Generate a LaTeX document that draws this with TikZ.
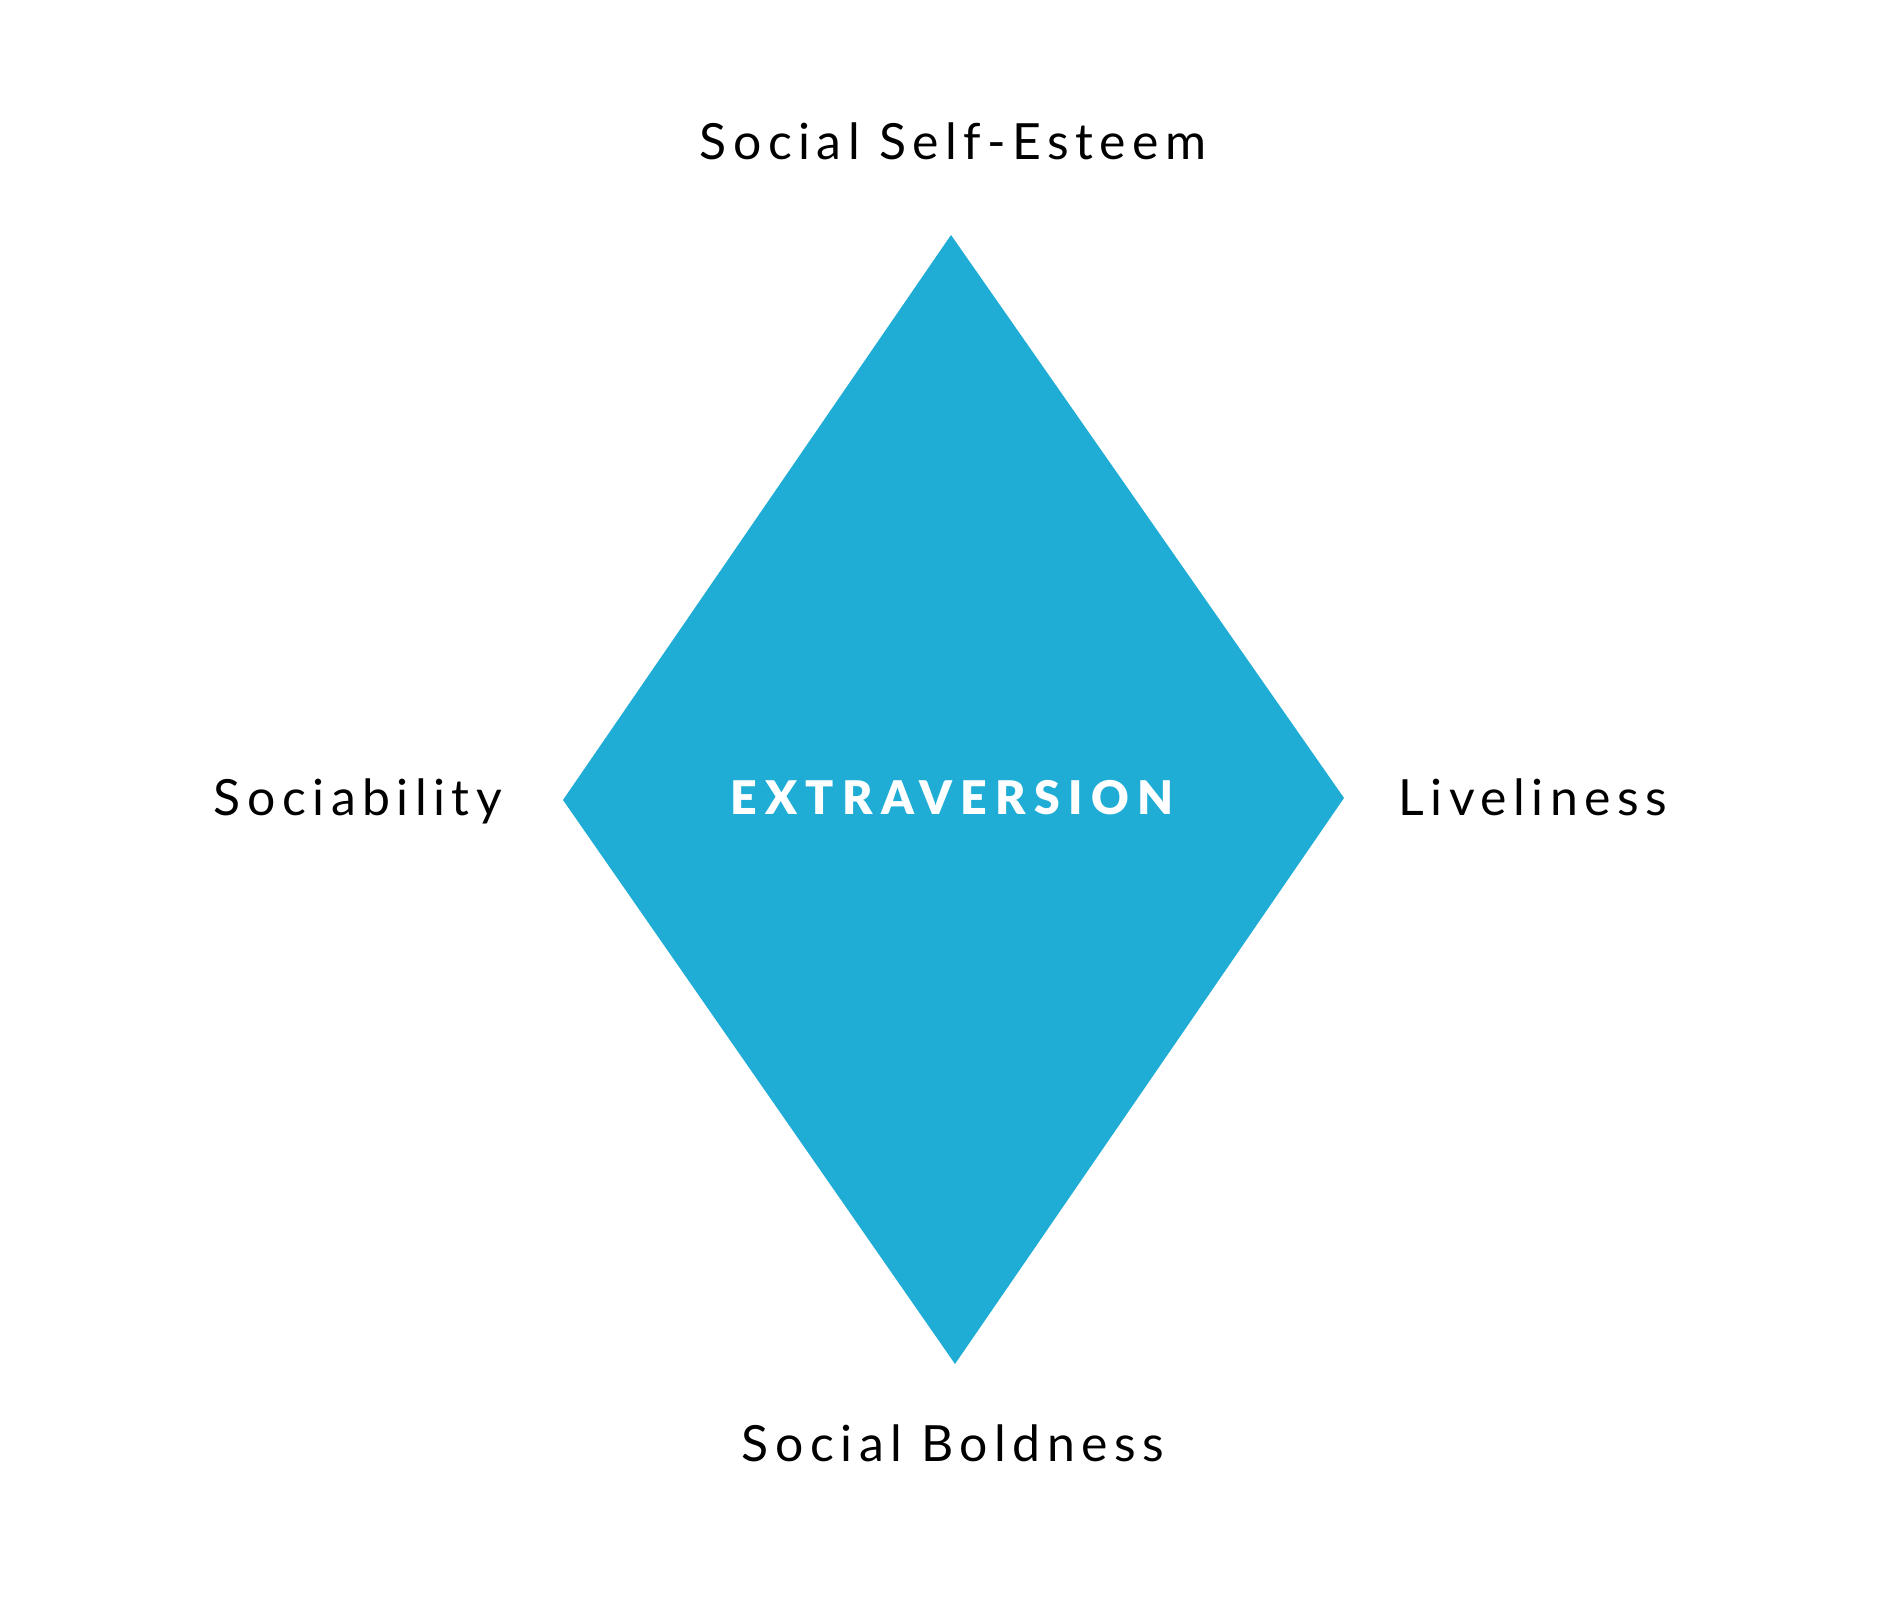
\documentclass[tikz,border=0pt]{standalone}
\usepackage{fontspec}
\setmainfont{Lato}
\newfontfamily\lblfont[LetterSpace=13]{Lato}
\newfontfamily\corefont[LetterSpace=18]{Lato Black}
\definecolor{diamondblue}{RGB}{31,173,214}
\begin{document}
\begin{tikzpicture}[
        every node/.style={inner sep=0pt},
        lbl/.style={anchor=base, font=\lblfont\fontsize{14.2}{16}\selectfont, text=black},
        core/.style={anchor=base, font=\corefont\fontsize{13.2}{15}\selectfont, text=white}
    ]
    \useasboundingbox (0,0) rectangle (18.93,16.2);
    \coordinate (top)    at (9.51, 13.85);
    \coordinate (right)  at (13.44, 8.22);
    \coordinate (bottom) at (9.55, 2.56);
    \coordinate (left)   at (5.63, 8.20);
    \fill[diamondblue] (top) -- (right) -- (bottom) -- (left) -- cycle;
    \node[core] (extra)   at (9.52, 8.05)  {EXTRAVERSION};
    \node[lbl]  (esteem)  at (9.53, 14.60) {Social Self-Esteem};
    \node[lbl]  (sociab)  at (3.58, 8.04)  {Sociability};
    \node[lbl]  (lively)  at (15.33, 8.04) {Liveliness};
    \node[lbl]  (bold)    at (9.53, 1.58)  {Social Boldness};
\end{tikzpicture}
\end{document}
